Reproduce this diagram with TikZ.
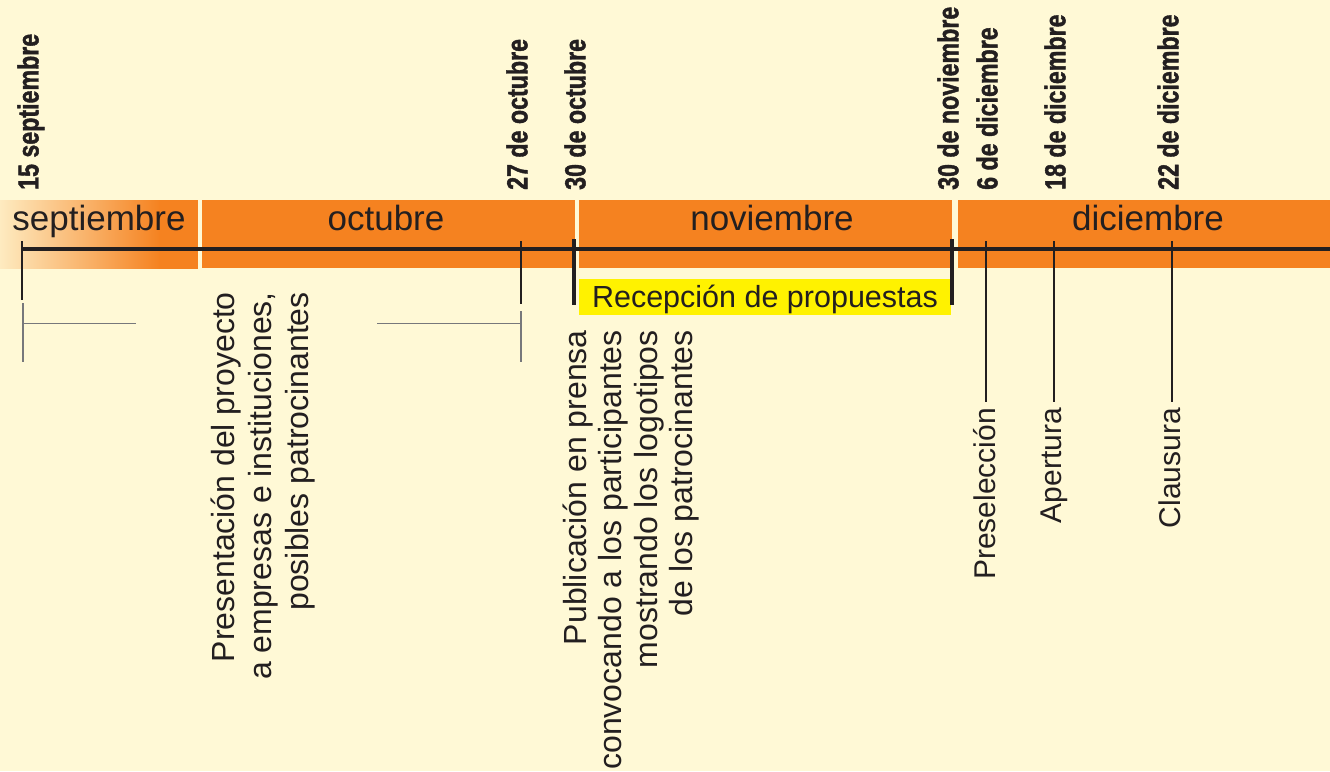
\documentclass[tikz,border=0pt]{standalone}
\usepackage{fontspec}
\setmainfont{Liberation Sans}
\newfontfamily\datefont[FakeBold=1.6]{Liberation Sans Bold}
\usepackage{graphicx}
\usetikzlibrary{positioning}

\definecolor{fondo}{HTML}{FFF9D6}
\definecolor{naranja}{HTML}{F58220}
\definecolor{amarillo}{HTML}{FFF200}
\definecolor{tinta}{HTML}{231F20}
\definecolor{gris}{HTML}{77787B}

\newcommand{\fechatxt}[1]{\scalebox{0.8}[1]{\datefont #1}}

\begin{document}
\begin{tikzpicture}[x=1pt,y=-1pt,inner sep=0pt]

    \tikzstyle{mes}=[font=\fontsize{35}{40}\selectfont,text=tinta,anchor=base]
    \tikzstyle{fecha}=[font=\fontsize{29}{30}\selectfont,text=tinta,rotate=90,anchor=west]
    \tikzstyle{evento}=[font=\fontsize{32}{36}\selectfont,text=tinta,rotate=90,anchor=east,align=right]
    \tikzstyle{corto}=[font=\fontsize{30}{36}\selectfont,text=tinta,rotate=90,anchor=base east,inner xsep=6pt]
    \tikzstyle{marca}=[draw=tinta,line width=2.2pt]
    \tikzstyle{hito}=[draw=tinta,line width=4pt]
    \tikzstyle{guia}=[draw=gris,line width=1.3pt]

    \fill[fondo] (0,0) rectangle (1330,771);
    \useasboundingbox (0,0) rectangle (1330,771);

    % franja de meses
    \begin{scope}
      \clip (0,200) rectangle (198,268);
      \shade[left color=naranja!12!fondo,right color=naranja] (0,190) rectangle (160,278);
      \fill[naranja] (159,190) rectangle (198,278);
    \end{scope}
    \fill[naranja] (202,200) rectangle (575,268);
    \fill[naranja] (579,200) rectangle (952,268);
    \fill[naranja] (958,200) rectangle (1330,268);

    \node[mes] (sep) at (99,230)   {septiembre};
    \node[mes] (oct) at (386,230)  {octubre};
    \node[mes] (nov) at (772,230)  {noviembre};
    \node[mes] (dic) at (1148,230) {diciembre};

    % linea de tiempo
    \coordinate (ini) at (22,248.5);
    \coordinate (fin) at (1330,248.5);
    \draw[tinta,line width=4pt] (ini) -- (fin);

    \coordinate (t15) at (22,241);
    \coordinate (t27) at (521,241);
    \coordinate (t30o) at (574,239);
    \coordinate (t30n) at (952,239);
    \coordinate (t6) at (986,241);
    \coordinate (t18) at (1054,241);
    \coordinate (t22) at (1172,241);

    % fechas
    \node[fecha] (f15)  at (31,190)   {\fechatxt{15 septiembre}};
    \node[fecha] (f27)  at (517,190)  {\fechatxt{27 de octubre}};
    \node[fecha] (f30o) at (575,190)  {\fechatxt{30 de octubre}};
    \node[fecha] (f30n) at (948,190)  {\fechatxt{30 de noviembre}};
    \node[fecha] (f6)   at (987,190)  {\fechatxt{6 de diciembre}};
    \node[fecha] (f18)  at (1055,190) {\fechatxt{18 de diciembre}};
    \node[fecha] (f22)  at (1168,190) {\fechatxt{22 de diciembre}};

    % recepcion
    \node[fill=amarillo,minimum width=372pt,minimum height=36pt,text height=21.8pt,text depth=0pt,
          font=\fontsize{30.5}{36}\selectfont,text=tinta] (recep) at (765,297) {Recepción de propuestas};

    \coordinate (b15) at (22,300);
    \coordinate (b27) at (521,304);
    \coordinate (b30o) at (574,305);
    \coordinate (b30n) at (952,305);
    \path[marca] (t15) edge (b15) (t27) edge (b27);
    \path[hito] (t30o) edge (b30o) (t30n) edge (b30n);

    % presentacion
    \coordinate (g1) at (23,303);
    \coordinate (g2) at (23,362);
    \coordinate (g3) at (23,323.5);
    \coordinate (g4) at (136,323.5);
    \coordinate (g5) at (521,311);
    \coordinate (g6) at (521,362);
    \coordinate (g7) at (377,323.5);
    \path[guia] (g1) edge (g2) (g3) edge (g4) (g5) edge (g6) (g7) edge (g6 |- g7);

    \node[evento,font=\fontsize{32}{37}\selectfont] (pres) at (263,292)
        {Presentación del proyecto\\a empresas e instituciones,\\posibles patrocinantes};
    \node[evento,font=\fontsize{32}{35.3}\selectfont] (publ) at (631,330)
        {Publicación en prensa\\convocando a los participantes\\mostrando los logotipos\\de los patrocinantes};

    % preseleccion, apertura, clausura
    \node[corto] (presel) at (995,402)  {Preselección};
    \node[corto] (aper)   at (1061,402) {Apertura};
    \node[corto] (clau)   at (1180,402) {Clausura};
    \path[marca] (t6) edge (t6 |- presel.east)
                 (t18) edge (t18 |- aper.east)
                 (t22) edge (t22 |- clau.east);

\end{tikzpicture}
\end{document}
